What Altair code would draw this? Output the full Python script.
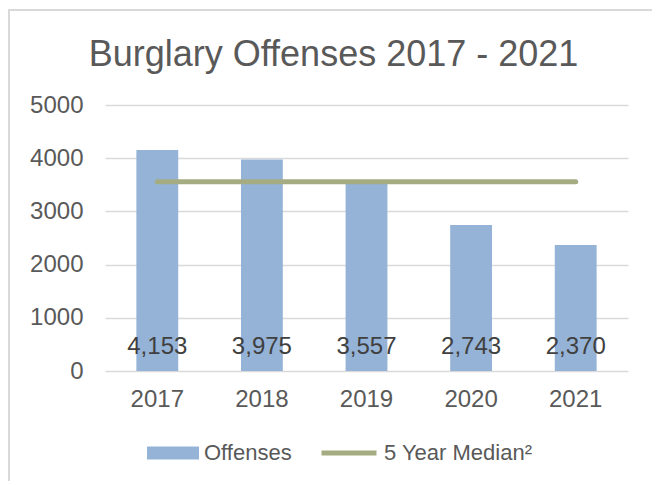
import altair as alt
import pandas as pd

years = ["2017", "2018", "2019", "2020", "2021"]
offenses = [4153, 3975, 3557, 2743, 2370]
median_5yr = [3557, 3557, 3557, 3557, 3557]
y_ticks = [0, 1000, 2000, 3000, 4000, 5000]

df = pd.DataFrame({
    "Year": years,
    "Offenses": offenses,
    "Median": median_5yr,
    "s1": ["Offenses"] * 5,
    "s2": ["5 Year Median²"] * 5,
})

FONT = "Liberation Sans"
BAR = "#95B3D7"
LINE = "#A5AC82"

xenc = alt.X("Year:N", scale=alt.Scale(paddingInner=0.6, paddingOuter=0.3),
             axis=alt.Axis(title=None, labelAngle=0, labelFontSize=24, labelFont=FONT,
                           labelColor="#595959", ticks=False, domain=False, labelPadding=16))

base = alt.Chart(df)

border = base.mark_rect(fill=None, stroke="#d9d9d9", strokeWidth=2).encode(
    x=alt.value(-96), x2=alt.value(552), y=alt.value(-95), y2=alt.value(400)
).transform_filter("datum.Year == '2017'")

bars = base.mark_bar(color=BAR).encode(
    x=xenc,
    y=alt.Y("Offenses:Q", scale=alt.Scale(domain=[0, 5000]),
            axis=alt.Axis(title=None, values=y_ticks, format="d", labelFontSize=24, labelFont=FONT,
                          labelColor="#595959", ticks=False, domain=False, labelPadding=22,
                          gridColor="#d9d9d9", gridWidth=1.5)),
    fill=alt.Fill("s1:N", scale=alt.Scale(domain=["Offenses"], range=[BAR]),
                  legend=alt.Legend(title=None, orient="none", legendX=42, legendY=322,
                                    symbolType="M-1,-0.25H1V0.25H-1Z", symbolSize=2704,
                                    symbolStrokeWidth=0, labelOffset=5,
                                    labelFontSize=22, labelFont=FONT, labelColor="#595959")),
)

line = base.mark_line(strokeWidth=5, strokeCap="round").encode(
    x=alt.X("Year:N"),
    y=alt.Y("Median:Q"),
    stroke=alt.Stroke("s2:N", scale=alt.Scale(domain=["5 Year Median²"], range=[LINE]),
                      legend=alt.Legend(title=None, orient="none", legendX=214, legendY=318,
                                        symbolType="stroke", symbolSize=3025,
                                        symbolStrokeWidth=5, labelOffset=5,
                                        labelFontSize=22, labelFont=FONT, labelColor="#595959")),
)

labels = base.mark_text(fontSize=24, font=FONT, color="#404040", dy=-24, baseline="middle").encode(
    x=alt.X("Year:N"),
    y=alt.datum(0),
    text=alt.Text("Offenses:Q", format=","),
)

chart = alt.layer(border, bars, line, labels).properties(
    width=523, height=266,
    title=alt.TitleParams("Burglary Offenses 2017 - 2021", fontSize=36, font=FONT,
                          color="#595959", fontWeight="normal", anchor="middle", dx=-33,
                          baseline="alphabetic", offset=-93),
    autosize=alt.AutoSizeParams(type="none"),
    padding={"left": 97, "top": 97, "right": 24, "bottom": 110},
).configure_view(stroke=None).configure_legend(symbolStrokeColor=None)

chart.save("out.html", embed_options={"renderer": "svg", "actions": False})
